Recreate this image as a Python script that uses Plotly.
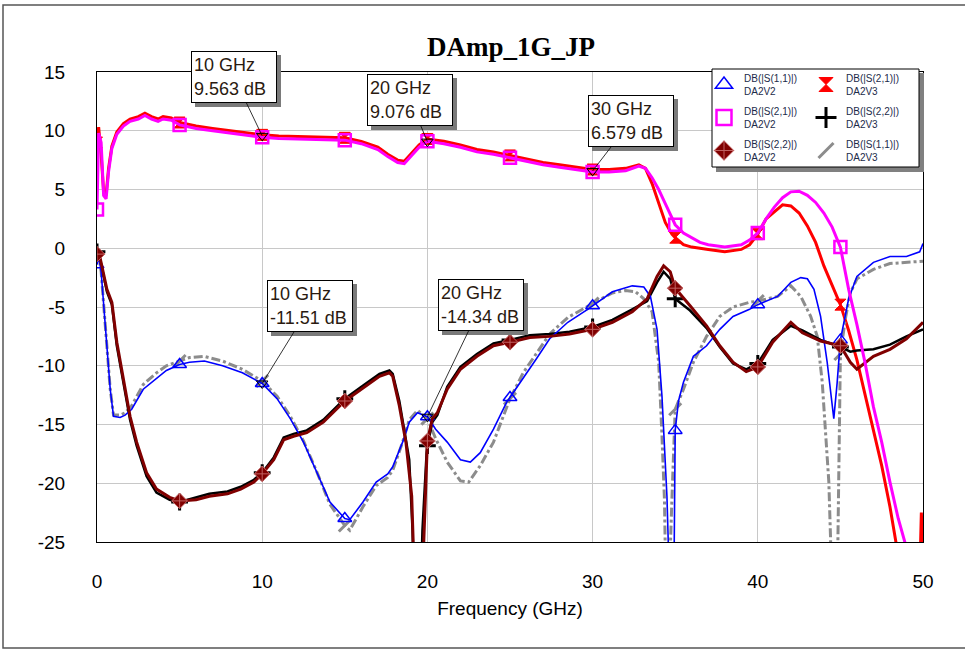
import numpy as np
import plotly.graph_objects as go

# ---------------- data ----------------
f_s21_v2 = [0, 0.1, 0.25, 0.4, 0.55, 0.7, 0.9, 1.2, 1.6, 2.0, 2.5, 2.9, 3.3, 3.7, 4.0, 4.5, 5.0, 6, 7, 8, 9, 10, 11, 12, 13, 14, 15, 16, 17, 17.6, 18.2, 18.6, 19.0, 19.5, 20, 21, 22, 23, 24, 25, 26, 27, 28, 29, 30, 31, 32, 32.8, 33.2, 33.6, 34.0, 34.4, 34.8, 35, 35.5, 36, 36.5, 37, 38, 39, 39.5, 40, 40.5, 41, 41.5, 42, 42.5, 43, 43.5, 44, 44.5, 45, 45.5, 46, 46.5, 47, 47.5, 48, 48.5, 49, 49.5, 50]
s21_v2 = [3.3, 9.8, 9.0, 4.5, 4.2, 6.5, 8.5, 9.7, 10.4, 10.8, 11.0, 11.3, 11.0, 10.8, 11.0, 10.9, 10.5, 10.2, 10.0, 9.8, 9.6, 9.45, 9.35, 9.3, 9.3, 9.25, 9.2, 8.9, 8.4, 7.8, 7.3, 7.2, 7.8, 8.6, 9.1, 8.9, 8.6, 8.2, 8.0, 7.7, 7.4, 7.1, 6.9, 6.7, 6.5, 6.5, 6.6, 7.0, 6.8, 6.0, 5.0, 3.8, 2.6, 2.0, 1.3, 0.9, 0.5, 0.3, 0.1, 0.3, 0.7, 1.3, 2.5, 3.5, 4.3, 4.8, 4.85, 4.5, 3.9, 3.0, 1.8, 0.1, -3.5, -6.5, -9.8, -13.5, -16.5, -19.9, -23.0, -25.5, -26.0, -25.5]

f_s21_v3 = [0, 0.1, 0.25, 0.4, 0.55, 0.7, 0.9, 1.2, 1.6, 2.0, 2.5, 2.9, 3.3, 3.7, 4.0, 4.5, 5.0, 6, 7, 8, 9, 10, 11, 12, 13, 14, 15, 16, 17, 17.6, 18.2, 18.6, 19.0, 19.5, 20, 21, 22, 23, 24, 25, 26, 27, 28, 29, 30, 31, 32, 32.8, 33.2, 33.6, 34.0, 34.4, 34.8, 35, 35.5, 36, 37, 38, 39, 39.5, 40, 40.5, 41, 41.5, 42, 42.5, 43, 43.5, 44, 44.5, 45, 45.5, 46, 46.5, 47, 47.5, 48, 48.3, 48.6, 49, 49.8, 49.9, 50]
s21_v3 = [9.0, 10.3, 8.0, 4.8, 4.5, 6.8, 8.7, 9.9, 10.6, 11.0, 11.2, 11.5, 11.2, 11.0, 11.2, 11.1, 10.7, 10.4, 10.2, 10.0, 9.8, 9.65, 9.55, 9.5, 9.5, 9.45, 9.4, 9.1, 8.6, 8.0, 7.5, 7.4, 8.0, 8.8, 9.3, 9.1, 8.8, 8.4, 8.2, 7.9, 7.6, 7.3, 7.1, 6.9, 6.7, 6.7, 6.8, 7.1, 6.8, 5.5, 3.8, 2.2, 1.2, 0.9, 0.3, 0.1, -0.1, -0.3, -0.1, 0.3, 1.2, 2.5, 3.1, 3.7, 3.6, 3.0, 1.9, 0.5, -1.5, -3.2, -4.8, -7.0, -9.5, -12.5, -15.5, -18.5, -22.0, -24.5, -27.0, -28.0, -28.0, -22.5, -26.0]

f_s11_v2 = [0, 0.1, 0.25, 0.5, 0.8, 1.0, 1.4, 1.7, 2.1, 2.8, 3.6, 4.2, 5.0, 5.6, 6.5, 7.6, 8.8, 10.0, 10.9, 11.7, 12.5, 13.3, 14.1, 15.0, 15.3, 16.1, 16.9, 17.6, 17.9, 18.5, 18.9, 19.4, 20.0, 20.5, 21.2, 22.0, 22.6, 23.2, 24.0, 24.8, 25.0, 25.8, 26.6, 27.4, 28.5, 29.7, 30.0, 30.3, 31.2, 32.4, 33.1, 33.5, 33.9, 34.2, 34.5, 34.6, 34.7, 34.9, 34.97, 35.0, 35.2, 35.5, 36.1, 36.9, 37.7, 38.5, 39.5, 40.0, 41.2, 42.0, 42.6, 43.0, 43.4, 43.8, 44.2, 44.6, 44.8, 45.0, 45.5, 46.0, 47.0, 48.0, 49.0, 49.8, 50.0]
s11_v2 = [-1.4, -0.6, -2.0, -6.9, -12.0, -14.3, -14.4, -14.2, -13.7, -12.0, -11.1, -10.4, -9.9, -9.7, -9.6, -10.0, -10.6, -11.51, -12.8, -14.5, -16.5, -19.1, -21.6, -23.0, -23.1, -21.6, -19.9, -19.2, -18.6, -16.5, -14.8, -14.0, -14.34, -15.4, -16.5, -18.0, -18.2, -17.4, -15.4, -13.1, -12.7, -11.1, -9.4, -7.7, -6.3, -5.2, -4.9, -4.6, -3.7, -3.2, -3.3, -4.1, -6.9, -12.6, -21.1, -26.0, -32.0, -32.0, -22.0, -15.5, -13.0, -11.4, -9.2, -8.3, -6.9, -5.8, -5.2, -4.8, -4.1, -2.9, -2.5, -2.6, -3.5, -5.8, -9.7, -14.5, -11.5, -7.8, -4.3, -2.4, -1.2, -0.7, -0.7, -0.3, 0.4]

f_s11_v3 = [0, 0.1, 0.25, 0.5, 0.8, 1.0, 1.4, 1.7, 2.1, 2.8, 3.6, 4.2, 5.0, 5.6, 6.5, 7.6, 8.8, 10.0, 10.9, 11.7, 12.5, 13.3, 14.1, 15.0, 15.3, 16.1, 16.9, 17.6, 17.9, 18.5, 18.9, 19.4, 20.0, 20.5, 21.2, 22.0, 22.5, 23.2, 24.0, 24.8, 25.0, 25.8, 26.6, 27.4, 28.5, 29.7, 30.0, 31.2, 32.0, 32.6, 33.1, 33.6, 34.0, 34.2, 34.35, 34.45, 34.6, 34.8, 35.0, 35.5, 36.1, 36.9, 37.7, 38.5, 39.5, 40.0, 41.2, 42.0, 42.6, 43.2, 43.6, 43.9, 44.1, 44.3, 44.4, 44.5, 44.8, 44.9, 45.0, 45.3, 45.6, 46.0, 47.0, 48.0, 49.0, 50.0]
s11_v3 = [-1.0, -0.6, -2.0, -6.5, -12.0, -14.2, -14.2, -14.0, -13.4, -11.6, -10.6, -10.0, -9.6, -9.3, -9.2, -9.6, -10.3, -11.3, -12.6, -14.3, -16.4, -19.0, -21.8, -23.6, -24.0, -22.0, -20.2, -19.5, -18.9, -16.5, -14.6, -13.8, -14.5, -16.2, -18.2, -19.8, -19.9, -18.5, -16.5, -13.5, -12.8, -10.6, -8.9, -7.3, -5.9, -4.9, -4.7, -3.8, -3.6, -3.7, -4.3, -5.4, -9.7, -16.0, -21.4, -30.0, -30.0, -21.4, -13.7, -12.0, -9.7, -7.5, -5.8, -5.0, -4.6, -4.5, -4.1, -3.2, -4.1, -5.8, -7.5, -11.4, -15.7, -19.9, -24.5, -30.0, -30.0, -18.0, -9.0, -6.0, -3.8, -2.6, -1.8, -1.3, -1.2, -1.1]

f_s22_v2 = [0, 0.2, 0.6, 0.9, 1.2, 1.6, 2.0, 2.4, 3.0, 3.6, 4.4, 5.0, 6.0, 6.8, 7.9, 8.7, 9.5, 10.0, 10.7, 11.3, 11.9, 12.7, 13.7, 15.0, 16.3, 17.1, 17.7, 17.9, 18.3, 18.7, 19.05, 19.15, 19.3, 19.6, 19.75, 19.85, 20.0, 20.3, 20.6, 21.2, 22.0, 23.0, 24.0, 25.0, 26.2, 27.4, 28.6, 30.0, 31.2, 32.4, 33.3, 33.9, 34.3, 34.7, 35.0, 35.9, 36.9, 37.7, 38.5, 39.3, 40.0, 40.9, 42.0, 42.7, 43.8, 45.0, 45.6, 46.0, 47.0, 48.0, 49.0, 50.0]
s22_v2 = [-0.5, -0.9, -3.5, -4.6, -8.0, -11.1, -14.3, -16.5, -19.1, -20.5, -21.2, -21.5, -21.4, -21.1, -20.9, -20.5, -19.9, -19.2, -18.0, -16.3, -16.0, -15.7, -14.8, -13.0, -11.7, -10.9, -10.6, -10.9, -13.4, -16.5, -21.1, -26.0, -32.0, -32.0, -26.0, -21.0, -16.4, -14.5, -14.0, -12.0, -10.3, -9.2, -8.3, -8.0, -7.6, -7.5, -7.3, -6.9, -6.3, -5.4, -4.3, -2.4, -1.5, -2.0, -3.4, -4.9, -6.6, -8.3, -9.7, -10.5, -10.1, -8.0, -6.3, -7.2, -7.9, -8.3, -9.7, -10.3, -9.2, -8.6, -7.7, -6.3]

f_s22_v3 = [0, 0.2, 0.6, 0.9, 1.2, 1.6, 2.0, 2.4, 3.0, 3.6, 4.4, 5.0, 6.0, 6.8, 7.9, 8.7, 9.5, 10.0, 10.7, 11.3, 11.9, 12.7, 13.7, 15.0, 16.3, 17.1, 17.7, 17.9, 18.3, 18.9, 19.1, 19.25, 19.55, 19.7, 19.95, 20.0, 20.3, 20.6, 21.2, 22.0, 23.0, 24.0, 25.0, 26.2, 27.4, 28.6, 30.0, 31.2, 32.4, 33.3, 33.9, 34.3, 34.7, 35.0, 35.9, 36.9, 37.7, 38.5, 39.3, 40.0, 40.9, 42.0, 42.7, 43.8, 45.0, 45.6, 46.0, 47.0, 48.0, 49.0, 50.0]
s22_v3 = [-0.3, -1.0, -3.7, -4.8, -8.3, -11.4, -14.6, -16.8, -19.4, -20.8, -21.4, -21.6, -21.2, -20.9, -20.7, -20.3, -19.7, -19.1, -17.8, -16.1, -15.8, -15.5, -14.6, -12.8, -11.5, -10.7, -10.4, -10.7, -13.0, -18.0, -24.0, -32.0, -32.0, -24.0, -17.5, -16.8, -14.8, -14.2, -11.8, -10.1, -9.0, -8.1, -7.8, -7.4, -7.3, -7.1, -6.7, -6.1, -5.2, -4.5, -2.9, -2.0, -2.6, -4.3, -5.3, -6.8, -8.4, -9.8, -10.3, -9.8, -7.8, -6.6, -7.0, -7.8, -8.4, -8.8, -8.7, -8.6, -8.2, -7.5, -6.9]

# marker callouts
callout_freq = [10, 20, 30, 10, 20]
callout_db = [9.563, 9.076, 6.579, -11.51, -14.34]
callout_text = ["10 GHz<br>9.563 dB", "20 GHz<br>9.076 dB", "30 GHz<br>6.579 dB",
                "10 GHz<br>-11.51 dB", "20 GHz<br>-14.34 dB"]

x_ticks = [0, 10, 20, 30, 40, 50]
y_ticks = [-25, -20, -15, -10, -5, 0, 5, 10, 15]
y_ticktext = ["-25", "-20", "-15", "-10", "-5", "0", "5", "10", "15"]

# ---------------- styling ----------------
W, H = 965, 651
L, R, T, B = 97, 923, 72, 542
def px2x(px):
    return (px - L) / (R - L)
def py2y(py):
    return (B - py) / (B - T)

series = [
    # name, f, y, color, width, dash, symbol, msize, mline, legend, label
    ("s21_v3", f_s21_v3, s21_v3, "#ff0000", 3, "solid", "hourglass", 11, 1, "legend2", "DB(|S(2,1)|)<br>DA2V3"),
    ("s11_v3", f_s11_v3, s11_v3, "#8c8c8c", 3, "dashdot", "line-ne", 12, 3, "legend2", "DB(|S(1,1)|)<br>DA2V3"),
    ("s22_v3", f_s22_v3, s22_v3, "#000000", 2.5, "solid", "cross-thin", 12, 3, "legend2", "DB(|S(2,2)|)<br>DA2V3"),
    ("s11_v2", f_s11_v2, s11_v2, "#0000ff", 1.6, "solid", "triangle-up-open", 12, 1.5, "legend", "DB(|S(1,1)|)<br>DA2V2"),
    ("s22_v2", f_s22_v2, s22_v2, "#800000", 3, "solid", "diamond-cross", 12, 1, "legend", "DB(|S(2,2)|)<br>DA2V2"),
    ("s21_v2", f_s21_v2, s21_v2, "#ff00ff", 3, "solid", "square-open", 12, 2.5, "legend", "DB(|S(2,1)|)<br>DA2V2"),
]

fig = go.Figure()
for name, fx, fy, col, lw, dash, sym, ms, mlw, leg, label in series:
    fx = np.array(fx, dtype=float)
    fy = np.array(fy, dtype=float)
    fig.add_trace(go.Scatter(x=fx, y=fy, mode="lines", line=dict(color=col, width=lw, dash=dash),
                             showlegend=False, hoverinfo="skip"))
    mask = np.isclose(np.mod(fx, 5), 0) & (fx <= 45)
    mline = dict(color=col, width=mlw)
    if sym == "diamond-cross":
        mline = dict(color="#c06060", width=1)
    fig.add_trace(go.Scatter(x=fx[mask], y=fy[mask], mode="markers",
                             marker=dict(symbol=sym, size=ms, color=col, line=mline),
                             showlegend=False, hoverinfo="skip", cliponaxis=True))

# legend entries (markers only), two columns
legend_order = ["s11_v2", "s21_v2", "s22_v2", "s21_v3", "s22_v3", "s11_v3"]
sd = {s[0]: s for s in series}
for key in legend_order:
    name, fx, fy, col, lw, dash, sym, ms, mlw, leg, label = sd[key]
    mline = dict(color=col, width=mlw)
    if sym == "diamond-cross":
        mline = dict(color="#c06060", width=1)
    fig.add_trace(go.Scatter(x=[None], y=[None], mode="markers", name=label,
                             marker=dict(symbol=sym, size=ms + 3, color=col, line=mline),
                             legend=leg, legendgroup=key, showlegend=True))

# callout markers
fig.add_trace(go.Scatter(x=callout_freq, y=callout_db, mode="markers",
                         marker=dict(symbol="triangle-down-open", size=10, color="#000000",
                                     line=dict(width=1, color="#000000")),
                         showlegend=False, hoverinfo="skip"))

# callout boxes: box centre in pixels
box_centers = [(234, 77), (410, 100), (631, 121), (310, 306), (481, 305)]
for fx0, db0, txt, (bx, by) in zip(callout_freq, callout_db, callout_text, box_centers):
    ppx = L + fx0 / 50 * (R - L)
    ppy = B - (db0 + 25) / 40 * (B - T)
    ax = bx - ppx
    ay = by - ppy
    # shadow (empty box)
    fig.add_annotation(x=fx0, y=db0, ax=ax + 4, ay=ay + 4, text=" ", showarrow=True,
                       arrowcolor="rgba(0,0,0,0)", bgcolor="#7a7a7a", bordercolor="#7a7a7a",
                       borderwidth=1, borderpad=2, width=80, height=46,
                       font=dict(family="Liberation Sans, Arial", size=18, color="#7a7a7a"))
    fig.add_annotation(x=fx0, y=db0, ax=ax, ay=ay, text=txt, showarrow=True,
                       arrowhead=0, arrowwidth=0.8, arrowcolor="#000000",
                       bgcolor="#ffffff", bordercolor="#000000",
                       borderwidth=1, borderpad=2, width=80, height=46, align="left",
                       font=dict(family="Liberation Sans, Arial", size=18, color="#2a1a10"))

shapes = [
    # outer frame
    dict(type="rect", xref="paper", yref="paper", x0=px2x(3), x1=px2x(990), y0=py2y(648), y1=py2y(5),
         line=dict(color="#555555", width=1.5), fillcolor="rgba(0,0,0,0)", layer="below"),
    # legend shadow + box
    dict(type="rect", xref="paper", yref="paper", x0=px2x(716), x1=px2x(924), y0=py2y(172), y1=py2y(73),
         line=dict(color="#808080", width=0), fillcolor="#808080", layer="above"),
    dict(type="rect", xref="paper", yref="paper", x0=px2x(712), x1=px2x(919), y0=py2y(167), y1=py2y(69),
         line=dict(color="#000000", width=1), fillcolor="#ffffff", layer="above"),
]

legend_font = dict(family="Liberation Sans, Arial", size=10, color="#1c2b4a")
fig.update_layout(
    width=W, height=H,
    margin=dict(l=L, r=W - R, t=T, b=H - B),
    paper_bgcolor="#ffffff", plot_bgcolor="#ffffff",
    title=dict(text="<b>DAmp_1G_JP</b>", x=511 / W, xanchor="center", y=1 - 47 / H, yanchor="middle",
               font=dict(family="Liberation Serif, Times New Roman", size=27, color="#000000")),
    xaxis=dict(range=[0, 50], tickvals=x_ticks, showgrid=True, gridcolor="#c8c8c8", gridwidth=1,
               showline=True, linecolor="#000000", linewidth=1, mirror=True, zeroline=False,
               ticks="", ticklabelstandoff=22,
               tickfont=dict(family="Liberation Sans, Arial", size=19, color="#000000"),
               title=dict(text="Frequency (GHz)", standoff=10,
                          font=dict(family="Liberation Sans, Arial", size=19, color="#000000"))),
    yaxis=dict(range=[-25, 15], tickvals=y_ticks, ticktext=y_ticktext, showgrid=True,
               gridcolor="#c8c8c8", gridwidth=1,
               showline=True, linecolor="#000000", linewidth=1, mirror=True, zeroline=False,
               ticks="", ticklabelstandoff=27,
               tickfont=dict(family="Liberation Sans, Arial", size=19, color="#000000")),
    legend=dict(x=px2x(704), y=py2y(65), xanchor="left", yanchor="top", orientation="v",
                bgcolor="rgba(0,0,0,0)", borderwidth=0, font=legend_font,
                itemwidth=30, tracegroupgap=4),
    legend2=dict(x=px2x(806), y=py2y(65), xanchor="left", yanchor="top", orientation="v",
                 bgcolor="rgba(0,0,0,0)", borderwidth=0, font=legend_font,
                 itemwidth=30, tracegroupgap=4),
    shapes=shapes,
    showlegend=True,
)

fig.write_html("out.html")
